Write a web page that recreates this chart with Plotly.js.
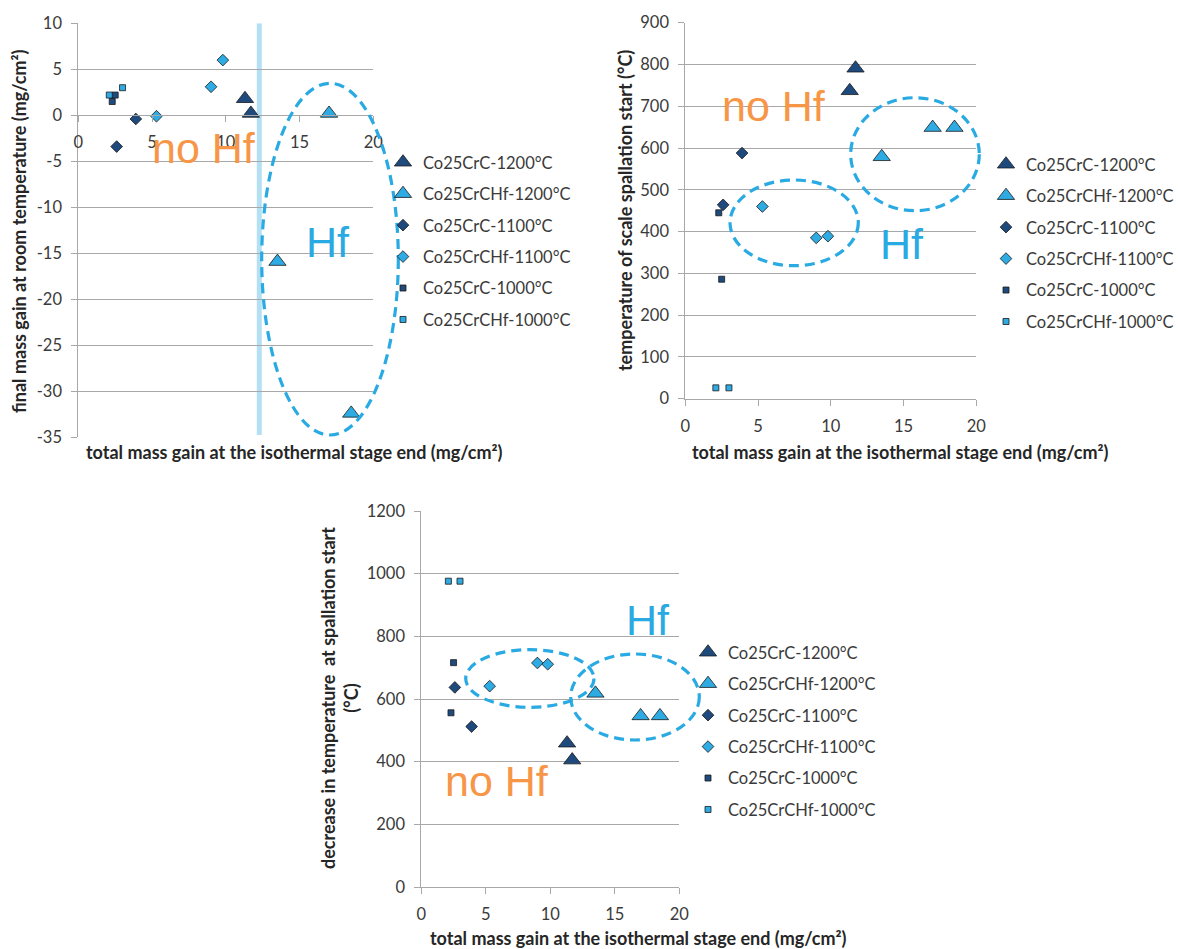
<!DOCTYPE html>
<html>
<head>
<meta charset="utf-8">
<script src="https://cdn.plot.ly/plotly-3.0.1.min.js"></script>
<style>
html,body{margin:0;padding:0;background:#fff;}
#chart{width:1178px;height:949px;}
</style>
</head>
<body>
<div id="chart"></div>
<script>
// ---------- data ----------
const seriesNames = ['Co25CrC-1200°C','Co25CrCHf-1200°C','Co25CrC-1100°C','Co25CrCHf-1100°C','Co25CrC-1000°C','Co25CrCHf-1000°C'];

// total mass gain at the isothermal stage end (mg/cm²)
const gainC1200 = [11.3, 11.7];
const gainHf1200 = [13.5, 17.0, 18.5];
const gainC1100 = [2.6, 3.9];
const gainHf1100 = [5.3, 9.0, 9.8];
const gainC1000 = [2.3, 2.5];
const gainHf1000 = [2.1, 3.0];

// chart 1: final mass gain at room temperature (mg/cm²)
const finalC1200 = [1.8, 0.2];
const finalHf1200 = [-15.9, 0.2, -32.4];
const finalC1100 = [-3.4, -0.4];
const finalHf1100 = [-0.1, 3.1, 6.0];
const finalC1000 = [1.5, 2.2];
const finalHf1000 = [2.2, 3.0];

// chart 2: temperature of scale spallation start (°C)
const spallC1200 = [737, 791];
const spallHf1200 = [579, 649, 649];
const spallC1100 = [464, 588];
const spallHf1100 = [460, 385, 389];
const spallC1000 = [445, 286];
const spallHf1000 = [26, 26];

// chart 3: decrease in temperature at spallation start (°C)
const decrC1200 = [459, 405];
const decrHf1200 = [618, 546, 546];
const decrC1100 = [637, 512];
const decrHf1100 = [641, 715, 711];
const decrC1000 = [556, 716];
const decrHf1000 = [976, 976];

// boundary between no-Hf and Hf groups in chart 1 (mg/cm²)
const boundaryGain = 12.27;

// tick labels
const y1Ticks = [10, 5, 0, -5, -10, -15, -20, -25, -30, -35];
const y1TickText = ['10', '5', '0', '-5', '-10', '-15', '-20', '-25', '-30', '-35'];
const xTicks = [0, 5, 10, 15, 20];
const y2Ticks = [0, 100, 200, 300, 400, 500, 600, 700, 800, 900];
const y3Ticks = [0, 200, 400, 600, 800, 1000, 1200];

// ---------- styling ----------
const W = 1178, H = 949;
const px = v => v / W;
const py = v => 1 - v / H;
const DARK = '#1f4a7d', LIGHT = '#2eabe2', EDGE = '#1b1b1b';
const GRID = '#a8a8a8';
const FONT = 'Lato, "Open Sans", sans-serif';
const TXT = '#3a3a3a';
const ORANGE = '#f79646', HFBLUE = '#2aaae2';

const styles = [
  {symbol: 'triangle-up', color: DARK, size: 15},
  {symbol: 'triangle-up', color: LIGHT, size: 15},
  {symbol: 'diamond', color: DARK, size: 9},
  {symbol: 'diamond', color: LIGHT, size: 9},
  {symbol: 'square', color: DARK, size: 6},
  {symbol: 'square', color: LIGHT, size: 6}
];

const gains = [gainC1200, gainHf1200, gainC1100, gainHf1100, gainC1000, gainHf1000];
const chartYs = [
  [finalC1200, finalHf1200, finalC1100, finalHf1100, finalC1000, finalHf1000],
  [spallC1200, spallHf1200, spallC1100, spallHf1100, spallC1000, spallHf1000],
  [decrC1200, decrHf1200, decrC1100, decrHf1100, decrC1000, decrHf1000]
];
const axSuffix = ['', '2', '3'];
const legendIds = ['legend', 'legend2', 'legend3'];

const traces = [];
chartYs.forEach((ys, c) => {
  ys.forEach((yv, i) => {
    traces.push({
      type: 'scatter', mode: 'markers',
      x: gains[i], y: yv,
      name: seriesNames[i],
      xaxis: 'x' + axSuffix[c], yaxis: 'y' + axSuffix[c],
      legend: legendIds[c],
      legendgroup: 'g' + c + '_' + i,
      marker: {symbol: styles[i].symbol, color: styles[i].color, size: styles[i].size,
               line: {color: EDGE, width: 0.8}},
      cliponaxis: false,
      hoverinfo: 'x+y+name'
    });
  });
});

function yAxis(domain, range, tickvals, ticktext, anchor) {
  const a = {
    domain: domain, range: range, tickvals: tickvals, anchor: anchor,
    showgrid: true, gridcolor: GRID, gridwidth: 1,
    showline: true, linecolor: GRID, linewidth: 1,
    ticks: 'outside', ticklen: 6, tickcolor: GRID, tickwidth: 1,
    zeroline: false, ticklabelstandoff: 6,
    tickfont: {family: FONT, size: 16.5, color: TXT}
  };
  if (ticktext) a.ticktext = ticktext;
  return a;
}
function xAxis(domain, anchor, extra) {
  return Object.assign({
    domain: domain, range: [0, 20], tickvals: xTicks, anchor: anchor,
    showgrid: false, showline: true, linecolor: GRID, linewidth: 1,
    ticks: 'outside', ticklen: 6, tickcolor: GRID, tickwidth: 1,
    zeroline: false, ticklabelstandoff: 6,
    tickfont: {family: FONT, size: 16.5, color: TXT}
  }, extra || {});
}

const d1x = [px(78.3), px(373.3)], d1y = [py(437.3), py(23.3)];
const d2x = [px(685.3), px(976.3)], d2y = [py(398.7), py(22.7)];
const d3x = [px(421.3), px(679.3)], d3y = [py(887), py(511)];

function legend(leftPx, topPx) {
  return {x: px(leftPx), y: py(topPx), xanchor: 'left', yanchor: 'top',
          bgcolor: 'rgba(0,0,0,0)', borderwidth: 0, tracegroupgap: 7,
          font: {family: FONT, size: 16.5, color: TXT}};
}

function ellipse(x0, x1, y0, y1) {
  return {type: 'circle', xref: 'paper', yref: 'paper',
          x0: px(x0), x1: px(x1), y0: py(y1), y1: py(y0),
          line: {color: HFBLUE, width: 3.2, dash: '10px,6px'},
          fillcolor: 'rgba(0,0,0,0)', layer: 'above'};
}

function bigText(text, cx, cy, color) {
  return {xref: 'paper', yref: 'paper', x: px(cx), y: py(cy), xanchor: 'center', yanchor: 'middle',
          text: text, showarrow: false,
          font: {family: '"Liberation Sans", Arial, sans-serif', size: 43, color: color}};
}
function axTitle(text, cx, cy, angle) {
  return {xref: 'paper', yref: 'paper', x: px(cx), y: py(cy), xanchor: 'center', yanchor: 'middle',
          text: text, showarrow: false, textangle: angle || 0,
          font: {family: FONT, size: 18, color: '#262626', weight: 'bold'}};
}

const layout = {
  width: W, height: H,
  margin: {l: 0, r: 0, t: 0, b: 0, autoexpand: false},
  paper_bgcolor: '#ffffff', plot_bgcolor: 'rgba(0,0,0,0)',
  showlegend: true,
  xaxis: xAxis(d1x, 'free', {position: py(115.3)}),
  yaxis: yAxis(d1y, [-35, 10], y1Ticks, y1TickText, 'x'),
  xaxis2: xAxis(d2x, 'y2'),
  yaxis2: yAxis(d2y, [0, 900], y2Ticks, null, 'x2'),
  xaxis3: xAxis(d3x, 'y3'),
  yaxis3: yAxis(d3y, [0, 1200], y3Ticks, null, 'x3'),
  legend: legend(383, 145),
  legend2: legend(986, 147),
  legend3: legend(688, 635),
  shapes: [
    {type: 'line', xref: 'x', yref: 'y',
     x0: boundaryGain, x1: boundaryGain, y0: -34.75, y1: 10,
     line: {color: '#b5dff3', width: 5}, layer: 'below'},
    ellipse(261.7, 398.3, 83.3, 435),
    ellipse(730, 858.3, 180, 265.7),
    ellipse(850.7, 979.3, 97.7, 210.7),
    ellipse(465.7, 594, 649.7, 707.3),
    ellipse(570.7, 699.3, 654, 740)
  ],
  annotations: [
    bigText('no Hf', 203.7, 148, ORANGE),
    bigText('Hf', 328, 242, HFBLUE),
    bigText('no Hf', 773.7, 105.7, ORANGE),
    bigText('Hf', 902, 244.3, HFBLUE),
    bigText('Hf', 648.3, 619.7, HFBLUE),
    bigText('no Hf', 497.2, 781, ORANGE),
    axTitle('total mass gain at the isothermal stage end (mg/cm²)', 294, 452),
    axTitle('total mass gain at the isothermal stage end (mg/cm²)', 901, 452),
    axTitle('total mass gain at the isothermal stage end (mg/cm²)', 638, 938),
    axTitle('final mass gain at room temperature (mg/cm²)', 19, 231, -90),
    axTitle('temperature of scale spallation start (°C)', 625, 211, -90),
    axTitle('decrease in temperature\u00a0 at spallation start<br>(°C)', 339, 698, -90)
  ]
};

Plotly.newPlot('chart', traces, layout, {displayModeBar: false, responsive: false});
</script>
</body>
</html>
